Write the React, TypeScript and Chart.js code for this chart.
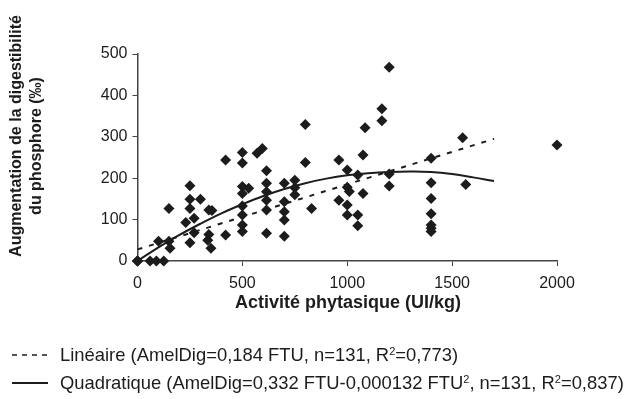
import React, { useEffect, useRef } from "react";
import { Chart, registerables } from "chart.js";
Chart.register(...registerables);

const scatterX = [
  0, 0, 0, 60, 90, 125,
  100, 150, 150, 155,
  250, 250, 250, 230, 270, 270, 250,
  300, 340, 355, 340, 335, 350,
  420, 420,
  500, 500, 500, 500, 530, 500, 500, 500, 500,
  570, 595,
  615, 615, 615, 615, 615, 615,
  700, 700, 700, 700, 700,
  750, 750, 750,
  800, 830, 800,
  960, 1000, 1050, 1000, 1010, 1075, 960, 1000, 1000, 1050, 1050,
  1075, 1200, 1200, 1200, 1165, 1165, 1085,
  1400, 1400, 1400, 1400, 1400, 1400, 1400,
  1565, 1550, 2000,
];
const scatterY = [
  0, 0, 0, 0, 0, 0,
  48, 127, 48, 31,
  182, 149, 127, 93, 103, 68, 44,
  149, 123, 122, 64, 50, 31,
  244, 63,
  262, 237, 180, 163, 176, 133, 111, 87, 71,
  260, 272,
  218, 188, 167, 147, 123, 67,
  188, 143, 119, 99, 60,
  195, 177, 160,
  238, 127, 330,
  244, 220, 208, 178, 168, 163, 147, 135, 111, 111, 85,
  256, 210, 181, 468, 368, 339, 322,
  248, 189, 151, 114, 87, 79, 71,
  185, 298, 280,
];

const linearX = [0, 1700];
const linearY = [28, 295];

const quadX = [0, 100, 200, 300, 400, 500, 600, 700, 800, 900, 1000, 1100, 1200, 1300, 1400, 1500, 1600, 1700];
const quadY = [0, 33, 63, 90, 115, 137, 157, 174, 188, 199, 207, 212, 215, 216, 215, 210, 202, 193];

const xTicks = [0, 500, 1000, 1500, 2000];
const yTicks = [0, 100, 200, 300, 400, 500];

const xTitle = "Activité phytasique (UI/kg)";
const yTitle = ["Augmentation de la digestibilité", "du phosphore (‰)"];

const FONT = "'Liberation Sans', Arial, sans-serif";
const INK = "#1c1c1c";

export default function App() {
  const ref = useRef<HTMLCanvasElement>(null);

  useEffect(() => {
    const titlePlugin = {
      id: "titles",
      afterDraw(chart: any) {
        const ctx = chart.ctx;
        ctx.save();
        ctx.fillStyle = INK;
        ctx.textAlign = "center";
        ctx.textBaseline = "middle";
        ctx.font = `bold 18px ${FONT}`;
        ctx.fillText(xTitle, 348, 303);
        ctx.font = `bold 16px ${FONT}`;
        ctx.save();
        ctx.translate(17, 136);
        ctx.rotate(-Math.PI / 2);
        ctx.fillText(yTitle[0], 0, 0);
        ctx.restore();
        ctx.save();
        ctx.translate(37, 146);
        ctx.rotate(-Math.PI / 2);
        ctx.fillText(yTitle[1], 0, 0);
        ctx.restore();
        ctx.restore();
      },
    };

    const chart = new Chart(ref.current!, {
      type: "scatter",
      data: {
        datasets: [
          {
            type: "line",
            data: linearX.map((x, i) => ({ x, y: linearY[i] })),
            borderColor: INK,
            borderWidth: 2,
            borderDash: [5, 7],
            pointRadius: 0,
            fill: false,
          },
          {
            type: "line",
            data: quadX.map((x, i) => ({ x, y: quadY[i] })),
            borderColor: INK,
            borderWidth: 2,
            pointRadius: 0,
            tension: 0.4,
            fill: false,
          },
          {
            data: scatterX.map((x, i) => ({ x, y: scatterY[i] })),
            pointStyle: "rectRot",
            pointRadius: 5.5,
            backgroundColor: INK,
            borderColor: INK,
            borderWidth: 0,
            clip: false,
          } as any,
        ],
      },
      options: {
        responsive: false,
        animation: false,
        layout: { padding: { left: 0, top: 54, right: 82, bottom: 0 } },
        plugins: { legend: { display: false }, tooltip: { enabled: false } },
        scales: {
          x: {
            type: "linear",
            min: 0,
            max: 2000,
            afterBuildTicks: (s: any) => {
              s.ticks = xTicks.map((v) => ({ value: v }));
            },
            afterFit: (s: any) => {
              s.height = 138;
            },
            grid: { drawOnChartArea: false, tickLength: 5, color: "#444", lineWidth: 1 },
            border: { color: "#444", width: 1.5 },
            ticks: {
              font: { size: 16, family: FONT },
              color: INK,
              padding: 8,
              maxRotation: 0,
              callback: (v: any) => String(v),
            },
          },
          y: {
            type: "linear",
            min: 0,
            max: 500,
            afterBuildTicks: (s: any) => {
              s.ticks = yTicks.map((v) => ({ value: v }));
            },
            afterFit: (s: any) => {
              s.width = 137.5;
            },
            grid: { drawOnChartArea: false, tickLength: 5, color: "#444", lineWidth: 1 },
            border: { color: "#444", width: 1.5 },
            ticks: {
              font: { size: 16, family: FONT },
              color: INK,
              padding: 5,
              callback: (v: any) => String(v),
            },
          },
        },
      },
      plugins: [titlePlugin],
    });
    return () => chart.destroy();
  }, []);

  const legendText: React.CSSProperties = {
    position: "absolute",
    left: 60,
    fontFamily: FONT,
    fontSize: 18.4,
    color: INK,
    whiteSpace: "nowrap",
    lineHeight: "20px",
  };
  const sup: React.CSSProperties = { fontSize: 11, verticalAlign: "6px", lineHeight: 0 };

  return (
    <div style={{ position: "fixed", left: 0, top: 0, width: 639, height: 399, background: "#fff" }}>
      <canvas ref={ref} width={639} height={399} style={{ position: "absolute", left: 0, top: 0 }} />
      <svg width={60} height={60} style={{ position: "absolute", left: 0, top: 330 }}>
        <line x1={12} y1={25} x2={48} y2={25} stroke={INK} strokeWidth={1.5} strokeDasharray="5 5" />
        <line x1={12} y1={53} x2={48} y2={53} stroke={INK} strokeWidth={2} />
      </svg>
      <div style={{ ...legendText, top: 345 }}>
        Linéaire (AmelDig=0,184 FTU, n=131, R<sup style={sup}>2</sup>=0,773)
      </div>
      <div style={{ ...legendText, top: 373 }}>
        Quadratique (AmelDig=0,332 FTU-0,000132 FTU<sup style={sup}>2</sup>, n=131, R<sup style={sup}>2</sup>=0,837)
      </div>
    </div>
  );
}
